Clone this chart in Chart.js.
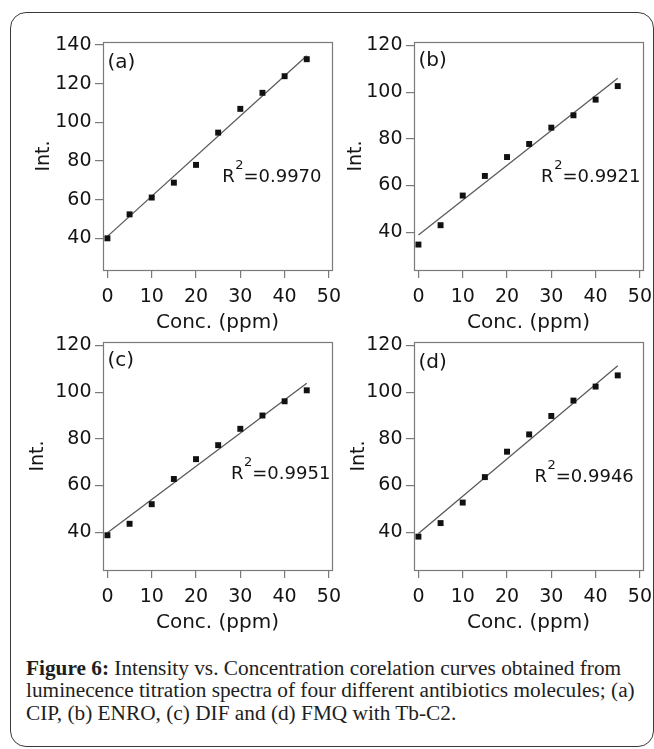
<!DOCTYPE html>
<html>
<head>
<meta charset="utf-8">
<script src="https://cdn.jsdelivr.net/npm/chart.js@4/dist/chart.umd.min.js"></script>
<style>
  html, body { margin: 0; padding: 0; background: #fff; }
  body { width: 654px; height: 749px; position: relative; overflow: hidden; }
  #frame { position: absolute; left: 10px; top: 12px; width: 644px; height: 735px;
           border: 1.5px solid #3a3a3a; border-radius: 16px; box-sizing: border-box; }
  .panel { position: absolute; }
  .panel canvas { display: block; }
  #caption { position: absolute; left: 26px; top: 656.5px; font-family: "Liberation Serif", serif;
             font-size: 21.3px; line-height: 22.5px; color: #1e1e1e; white-space: nowrap; }
  #caption b { font-weight: bold; }
</style>
</head>
<body>
<div id="frame"></div>
<div class="panel" id="pa"><canvas id="ca"></canvas></div>
<div class="panel" id="pb"><canvas id="cb"></canvas></div>
<div class="panel" id="pc"><canvas id="cc"></canvas></div>
<div class="panel" id="pd"><canvas id="cd"></canvas></div>
<div id="caption"><b>Figure 6:</b> Intensity vs. Concentration corelation curves obtained from<br>luminecence titration spectra of four different antibiotics molecules; (a)<br>CIP, (b) ENRO, (c) DIF and (d) FMQ with Tb-C2.</div>
<script>
// ---------------- data ----------------
const concentrations = [0, 5, 10, 15, 20, 25, 30, 35, 40, 45];
const intensityA = [40.0, 52.4, 61.1, 68.8, 78.0, 94.7, 107.0, 115.3, 123.9, 132.7];
const intensityB = [34.7, 43.0, 55.7, 64.1, 72.2, 77.8, 84.8, 90.1, 96.8, 102.6];
const intensityC = [38.7, 43.6, 52.0, 62.8, 71.3, 77.3, 84.3, 90.0, 96.1, 100.8];
const intensityD = [38.1, 43.9, 52.7, 63.6, 74.5, 81.9, 89.8, 96.4, 102.4, 107.2];
const fitX = [0, 45];
const fitA = [41.0, 134.5];
const fitB = [38.8, 106.0];
const fitC = [39.8, 103.8];
const fitD = [39.4, 111.3];
const xTicks = [0, 10, 20, 30, 40, 50];
const yTicksA = [40, 60, 80, 100, 120, 140];
const yTicksBCD = [40, 60, 80, 100, 120];
const panelLabels = ['(a)', '(b)', '(c)', '(d)'];
const r2Values = ['0.9970', '0.9921', '0.9951', '0.9946'];
const xTitle = 'Conc. (ppm)';
const yTitle = 'Int.';

// ---------------- layout (positions / styles) ----------------
const FONT = '"DejaVu Sans", sans-serif';
const TEXT = '#141414';
const AXIS_W = 80, AXIS_H = 72, PAD_TOP = 20, PAD_RIGHT = 8;
const PLOT_W = 229, PLOT_H = 228;
const panels = [
  { div: 'pa', canvas: 'ca', L: 103, T: 42, y: intensityA, fit: fitA, yTicks: yTicksA, yMin: 23.6, yMax: 141.6, yTitlePad: 9.5, r2At: { x: 25.9, y: 69.2 }, labelDy: 26 },
  { div: 'pb', canvas: 'cb', L: 414, T: 42, y: intensityB, fit: fitB, yTicks: yTicksBCD, yMin: 23.8, yMax: 121.5, yTitlePad: 11, r2At: { x: 27.7, y: 61.6 }, labelDy: 24 },
  { div: 'pc', canvas: 'cc', L: 103, T: 342, y: intensityC, fit: fitC, yTicks: yTicksBCD, yMin: 23.8, yMax: 121.5, yTitlePad: 3.8, r2At: { x: 27.9, y: 62.7 }, labelDy: 24 },
  { div: 'pd', canvas: 'cd', L: 414, T: 342, y: intensityD, fit: fitD, yTicks: yTicksBCD, yMin: 23.8, yMax: 121.5, yTitlePad: 14, r2At: { x: 26.2, y: 61.7 }, labelDy: 25.5 }
];

const framePlugin = {
  id: 'frameAndText',
  beforeDatasetsDraw(chart, args, opts) {
    const { ctx, chartArea: a } = chart;
    ctx.save();
    ctx.strokeStyle = '#7a7a7a';
    ctx.lineWidth = 1.2;
    ctx.strokeRect(Math.round(a.left) + 0.5, Math.round(a.top) + 0.5,
                   Math.round(a.right - a.left), Math.round(a.bottom - a.top));
    ctx.restore();
  },
  afterDatasetsDraw(chart, args, opts) {
    const { ctx, chartArea: a, scales } = chart;
    ctx.save();
    ctx.fillStyle = TEXT;
    ctx.textAlign = 'left';
    ctx.textBaseline = 'alphabetic';
    ctx.font = '20px ' + FONT;
    ctx.fillText(opts.label, a.left + 4.5, a.top + opts.labelDy);
    const x = scales.x.getPixelForValue(opts.r2At.x);
    const y = scales.y.getPixelForValue(opts.r2At.y);
    ctx.font = '18px ' + FONT;
    ctx.fillText('R', x, y);
    let w = ctx.measureText('R').width;
    ctx.font = '13px ' + FONT;
    ctx.fillText('2', x + w + 0.5, y - 13);
    w += ctx.measureText('2').width + 0.5;
    ctx.font = '18px ' + FONT;
    ctx.fillText('=' + opts.r2, x + w, y);
    ctx.restore();
  }
};

panels.forEach((p, i) => {
  const W = AXIS_W + PLOT_W + PAD_RIGHT;
  const H = PAD_TOP + PLOT_H + AXIS_H;
  const div = document.getElementById(p.div);
  div.style.left = (p.L - AXIS_W) + 'px';
  div.style.top = (p.T - PAD_TOP) + 'px';
  const cv = document.getElementById(p.canvas);
  cv.width = W; cv.height = H;
  cv.style.width = W + 'px'; cv.style.height = H + 'px';

  new Chart(cv, {
    type: 'scatter',
    data: {
      datasets: [
        {
          data: concentrations.map((c, k) => ({ x: c, y: p.y[k] })),
          showLine: false,
          pointStyle: 'rect',
          pointRadius: 4.2,
          pointBackgroundColor: '#111',
          pointBorderWidth: 0,
          borderWidth: 0
        },
        {
          type: 'line',
          data: fitX.map((c, k) => ({ x: c, y: p.fit[k] })),
          showLine: true,
          borderColor: '#5a5a5a',
          borderWidth: 1.3,
          pointRadius: 0,
          fill: false
        }
      ]
    },
    options: {
      responsive: false,
      animation: false,
      devicePixelRatio: 1,
      layout: { padding: { left: 0, top: PAD_TOP, right: PAD_RIGHT, bottom: 0 } },
      plugins: {
        legend: { display: false },
        tooltip: { enabled: false },
        frameAndText: { label: panelLabels[i], r2: r2Values[i], r2At: p.r2At, labelDy: p.labelDy }
      },
      scales: {
        x: {
          type: 'linear',
          position: 'bottom',
          min: -1,
          max: 50.7,
          afterBuildTicks: s => { s.ticks = xTicks.map(v => ({ value: v })); },
          afterFit: s => { s.height = AXIS_H; s.paddingLeft = 0; s.paddingRight = 0; },
          grid: { display: true, drawOnChartArea: false, drawTicks: true, tickLength: 8, color: '#7a7a7a', lineWidth: 1.2 },
          border: { display: false },
          ticks: { color: TEXT, font: { family: FONT, size: 19 }, padding: 7.5, maxRotation: 0, autoSkip: false },
          title: { display: true, text: xTitle, color: TEXT, font: { family: FONT, size: 20 }, padding: { top: 0, bottom: 7 } }
        },
        y: {
          type: 'linear',
          position: 'left',
          min: p.yMin,
          max: p.yMax,
          afterBuildTicks: s => { s.ticks = p.yTicks.map(v => ({ value: v })); },
          afterFit: s => { s.width = AXIS_W; s.paddingTop = 0; s.paddingBottom = 0; },
          grid: { display: true, drawOnChartArea: false, drawTicks: true, tickLength: 8, color: '#7a7a7a', lineWidth: 1.2 },
          border: { display: false },
          ticks: { color: TEXT, font: { family: FONT, size: 19 }, padding: 3.5, autoSkip: false },
          title: { display: true, text: yTitle, color: TEXT, font: { family: FONT, size: 19 }, padding: { top: p.yTitlePad, bottom: 0 } }
        }
      }
    },
    plugins: [framePlugin]
  });
});
</script>
</body>
</html>
